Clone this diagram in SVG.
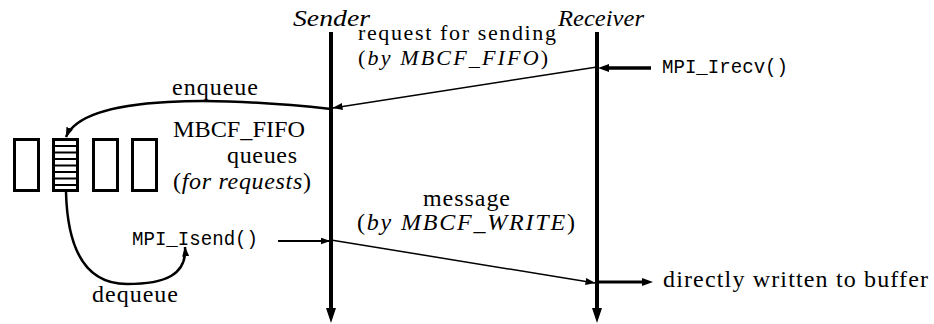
<svg xmlns="http://www.w3.org/2000/svg" width="934" height="324" viewBox="0 0 934 324">
<style>
text{fill:#000}
.rm{font-family:'Liberation Serif','DejaVu Serif',serif;font-size:24px}
.sm{font-size:22px}
.it{font-style:italic}
.tt{font-family:'Liberation Mono','DejaVu Sans Mono',monospace;font-size:20px}
.ln{stroke:#000;fill:none}
.box{fill:#fff;stroke:#000;stroke-width:3}
.stripe{stroke:#000;stroke-width:2}
</style>
<defs>
<marker id="vhead" viewBox="0 0 15 10" refX="0" refY="5" markerWidth="15" markerHeight="10" orient="auto" markerUnits="userSpaceOnUse"><path d="M0,0 L15,5 L0,10 Z" fill="#000"/></marker>
<marker id="hhead" viewBox="0 0 11 8" refX="0" refY="4" markerWidth="11" markerHeight="8" orient="auto" markerUnits="userSpaceOnUse"><path d="M0,0 L11,4 L0,8 Z" fill="#000"/></marker>
<marker id="thin" viewBox="0 0 10 7" refX="9.5" refY="3.5" markerWidth="10" markerHeight="7" orient="auto" markerUnits="userSpaceOnUse"><path d="M0,0 L10,3.5 L0,7 Z" fill="#000"/></marker>
</defs>

<g id="sender">
<text class="rm it" x="293" y="26" textLength="77" lengthAdjust="spacingAndGlyphs">Sender</text>
<line class="ln" x1="331" y1="32" x2="331" y2="308" stroke-width="4" marker-end="url(#vhead)"/>
</g>

<g id="receiver">
<text class="rm it" x="558" y="26" textLength="86" lengthAdjust="spacingAndGlyphs">Receiver</text>
<line class="ln" x1="597" y1="32" x2="597" y2="308" stroke-width="4" marker-end="url(#vhead)"/>
</g>

<g id="queues">
<rect class="box" x="14.5" y="139.5" width="24" height="51"/>
<rect class="box" x="53.5" y="139.5" width="24" height="51"/>
<line class="stripe" x1="53" y1="146" x2="78" y2="146"/>
<line class="stripe" x1="53" y1="152.5" x2="78" y2="152.5"/>
<line class="stripe" x1="53" y1="159" x2="78" y2="159"/>
<line class="stripe" x1="53" y1="165.5" x2="78" y2="165.5"/>
<line class="stripe" x1="53" y1="172" x2="78" y2="172"/>
<line class="stripe" x1="53" y1="178.5" x2="78" y2="178.5"/>
<line class="stripe" x1="53" y1="185" x2="78" y2="185"/>
<rect class="box" x="93.5" y="139.5" width="24" height="51"/>
<rect class="box" x="132.5" y="139.5" width="24" height="51"/>
<text class="rm" x="173" y="137" textLength="132" lengthAdjust="spacingAndGlyphs">MBCF_FIFO</text>
<text class="rm" x="227" y="163" textLength="70">queues</text>
<text class="rm" x="173" y="189" textLength="138">(<tspan class="it">for requests</tspan>)</text>
</g>

<g id="isend">
<text class="tt" x="132" y="245" textLength="126" lengthAdjust="spacingAndGlyphs">MPI_Isend()</text>
</g>

<g id="irecv">
<text class="tt" x="662" y="73" textLength="126" lengthAdjust="spacingAndGlyphs">MPI_Irecv()</text>
</g>

<g id="buffer">
<text class="rm" x="663" y="287" textLength="265">directly written to buffer</text>
</g>

<g id="connectors">
<line class="ln" x1="651" y1="68" x2="609" y2="68" stroke-width="3.5" marker-end="url(#hhead)"/>
<line class="ln" x1="597" y1="67" x2="333" y2="108" stroke-width="1.5" marker-end="url(#thin)"/>
<path class="ln" d="M331,109 C230,98 85,92 66,137" stroke-width="2.5" marker-end="url(#thin)"/>
<path class="ln" d="M66,192 C68,270 100,284 127,284 C165,284 187,275 185,247" stroke-width="2.5" marker-end="url(#thin)"/>
<line class="ln" x1="278" y1="241" x2="330" y2="241" stroke-width="2" marker-end="url(#thin)"/>
<line class="ln" x1="331" y1="240" x2="595" y2="283" stroke-width="1.5" marker-end="url(#thin)"/>
<line class="ln" x1="597" y1="282" x2="642" y2="282" stroke-width="3" marker-end="url(#hhead)"/>
<text class="rm sm" x="358" y="40" textLength="198">request for sending</text>
<text class="rm sm" x="358" y="65" textLength="190">(<tspan class="it">by MBCF_FIFO</tspan>)</text>
<text class="rm" x="172" y="95" textLength="86">enqueue</text>
<text class="rm" x="92" y="302" textLength="86">dequeue</text>
<text class="rm" x="423" y="206" textLength="87">message</text>
<text class="rm" x="357" y="230" textLength="218">(<tspan class="it">by MBCF_WRITE</tspan>)</text>
</g>
</svg>
